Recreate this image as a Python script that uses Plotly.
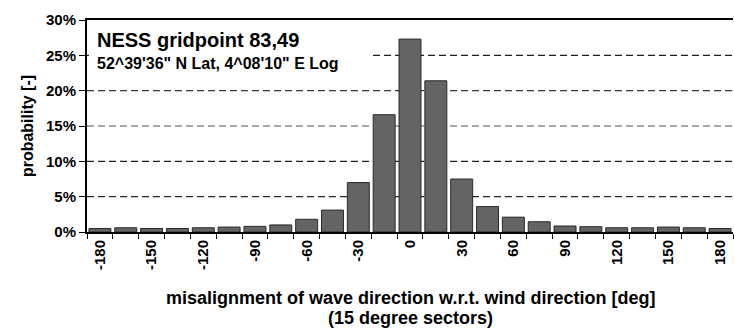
import plotly.graph_objects as go

sectors = [-180, -165, -150, -135, -120, -105, -90, -75, -60, -45, -30, -15, 0,
           15, 30, 45, 60, 75, 90, 105, 120, 135, 150, 165, 180]
probability = [0.5, 0.6, 0.5, 0.5, 0.6, 0.7, 0.8, 1.0, 1.8, 3.1, 7.0, 16.6, 27.3,
               21.4, 7.5, 3.6, 2.1, 1.45, 0.85, 0.75, 0.6, 0.6, 0.7, 0.6, 0.5]
tick_labels = [str(s) if s % 30 == 0 else "" for s in sectors]
y_ticks = [0, 5, 10, 15, 20, 25, 30]
grid_levels = [5, 10, 15, 20, 25]
grid_colors = ["#2a2a2a", "#1e1e1e", "#8a8a8a", "#3a3a3a", "#1e1e1e"]

cats = [str(s) for s in sectors]
FONT = "Arial, 'Liberation Sans', sans-serif"

fig = go.Figure(go.Bar(
    x=cats, y=probability,
    marker=dict(color="#646464", line=dict(color="#2a2a2a", width=1)),
    width=0.85,
))

fig.update_layout(
    width=734, height=332,
    margin=dict(l=87, r=1, t=20, b=100),
    plot_bgcolor="white", paper_bgcolor="white",
    font=dict(family=FONT, color="black"),
    showlegend=False,
)
fig.update_xaxes(
    type="category",
    tickvals=cats, ticktext=[f"<b>{t}</b>" if t else "" for t in tick_labels],
    tickangle=-90, tickson="boundaries",
    ticks="outside", ticklen=5, tickcolor="black", tickwidth=1,
    showline=True, linecolor="black", linewidth=2, mirror=True,
    showgrid=False,
    tickfont=dict(size=15, family=FONT),
)
fig.update_yaxes(
    range=[0, 30], tickvals=y_ticks,
    ticktext=[f"<b>{v}%</b>" for v in y_ticks],
    ticks="outside", ticklen=6, tickcolor="black",
    showline=True, linecolor="black", linewidth=2,
    showgrid=False, zeroline=False,
    tickfont=dict(size=15, family=FONT),
    title=dict(text="<b>probability [-]</b>", font=dict(size=16, family=FONT), standoff=8),
)

for lvl, col in zip(grid_levels, grid_colors):
    fig.add_shape(type="line", xref="paper", yref="y", x0=0, x1=1, y0=lvl, y1=lvl,
                  line=dict(color=col, width=1.4, dash="7px,4px"), layer="below")

fig.add_shape(type="rect", xref="paper", yref="paper",
              x0=0.003, x1=0.441, y0=0.72, y1=0.995,
              fillcolor="white", line=dict(width=0), layer="below")

fig.add_annotation(xref="paper", yref="paper", x=0.012, y=(232 - 40) / 212,
                   xanchor="left", yanchor="middle", showarrow=False, align="left",
                   text="<b>NESS gridpoint 83,49</b>",
                   font=dict(size=20, family=FONT))
fig.add_annotation(xref="paper", yref="paper", x=0.012, y=(232 - 63) / 212,
                   xanchor="left", yanchor="middle", showarrow=False, align="left",
                   text="<b>52^39'36\" N Lat, 4^08'10\" E Log</b>",
                   font=dict(size=16, family=FONT))

fig.add_annotation(xref="paper", yref="paper", x=0.5, y=(232 - 298) / 212,
                   xanchor="center", yanchor="middle", showarrow=False,
                   text="<b>misalignment of wave direction w.r.t. wind direction [deg]</b>",
                   font=dict(size=18, family=FONT))
fig.add_annotation(xref="paper", yref="paper", x=0.5, y=(232 - 318) / 212,
                   xanchor="center", yanchor="middle", showarrow=False,
                   text="<b>(15 degree sectors)</b>",
                   font=dict(size=18, family=FONT))

fig.write_html("out.html")
